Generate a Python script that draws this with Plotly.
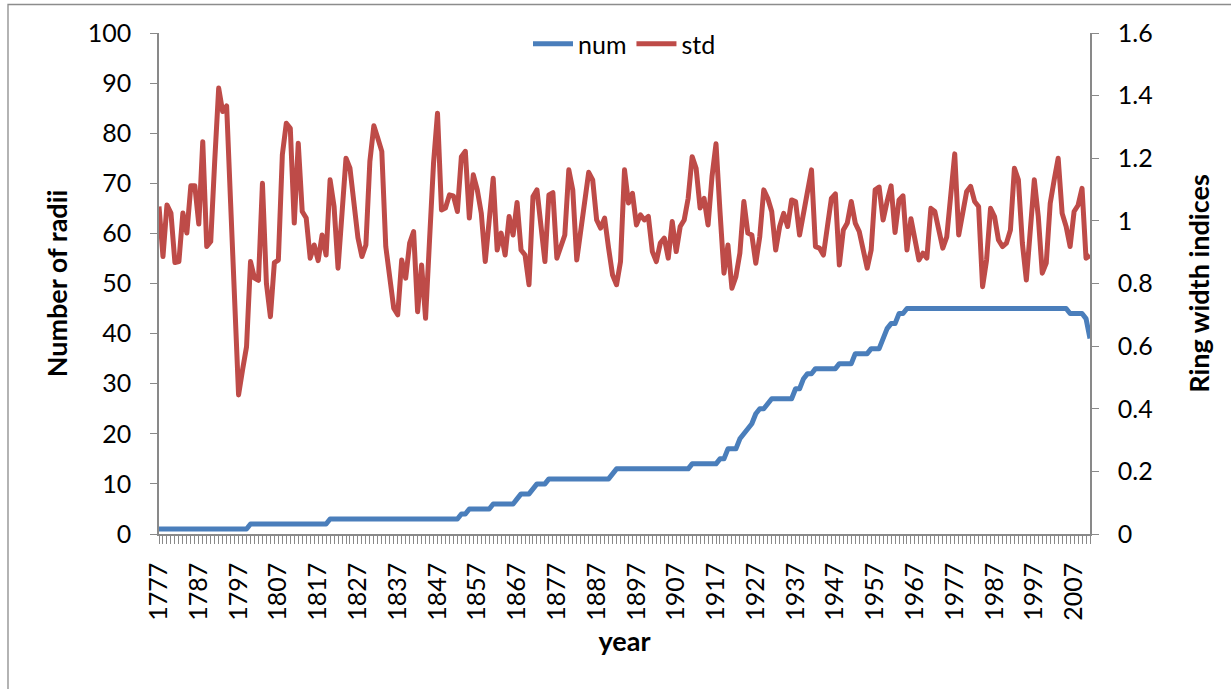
import plotly.graph_objects as go

# ---------------- data ----------------
years = list(range(1777, 2012))

num = [
    1, 1, 1, 1, 1, 1, 1, 1, 1, 1,          # 1777-1786
    1, 1, 1, 1, 1, 1, 1, 1, 1, 1,          # 1787-1796
    1, 1, 1, 2, 2, 2, 2, 2, 2, 2,          # 1797-1806
    2, 2, 2, 2, 2, 2, 2, 2, 2, 2,          # 1807-1816
    2, 2, 2, 3, 3, 3, 3, 3, 3, 3,          # 1817-1826
    3, 3, 3, 3, 3, 3, 3, 3, 3, 3,          # 1827-1836
    3, 3, 3, 3, 3, 3, 3, 3, 3, 3,          # 1837-1846
    3, 3, 3, 3, 3, 3, 4, 4, 5, 5,          # 1847-1856
    5, 5, 5, 5, 6, 6, 6, 6, 6, 6,          # 1857-1866
    7, 8, 8, 8, 9, 10, 10, 10, 11, 11,     # 1867-1876
    11, 11, 11, 11, 11, 11, 11, 11, 11, 11,  # 1877-1886
    11, 11, 11, 11, 12, 13, 13, 13, 13, 13,  # 1887-1896
    13, 13, 13, 13, 13, 13, 13, 13, 13, 13,  # 1897-1906
    13, 13, 13, 13, 14, 14, 14, 14, 14, 14,  # 1907-1916
    14, 15, 15, 17, 17, 17, 19, 20, 21, 22,  # 1917-1926
    24, 25, 25, 26, 27, 27, 27, 27, 27, 27,  # 1927-1936
    29, 29, 31, 32, 32, 33, 33, 33, 33, 33,  # 1937-1946
    33, 34, 34, 34, 34, 36, 36, 36, 36, 37,  # 1947-1956
    37, 37, 39, 41, 42, 42, 44, 44, 45, 45,  # 1957-1966
    45, 45, 45, 45, 45, 45, 45, 45, 45, 45,  # 1967-1976
    45, 45, 45, 45, 45, 45, 45, 45, 45, 45,  # 1977-1986
    45, 45, 45, 45, 45, 45, 45, 45, 45, 45,  # 1987-1996
    45, 45, 45, 45, 45, 45, 45, 45, 45, 44,  # 1997-2006
    44, 44, 44, 43, 39,                      # 2007-2011
]

std = [
    1.046, 0.886, 1.051, 1.025, 0.867, 0.870, 1.025, 0.961, 1.112, 1.112,  # 1777-1786
    0.990, 1.253, 0.918, 0.934, 1.190, 1.424, 1.349, 1.367, 1.057, 0.748,  # 1787-1796
    0.444, 0.524, 0.598, 0.870, 0.817, 0.810, 1.120, 0.800, 0.694, 0.867,  # 1797-1806
    0.875, 1.211, 1.312, 1.296, 0.993, 1.248, 1.030, 1.009, 0.881, 0.923,  # 1807-1816
    0.873, 0.955, 0.891, 1.131, 1.046, 0.849, 1.020, 1.200, 1.168, 1.067,  # 1817-1826
    0.946, 0.886, 0.923, 1.190, 1.304, 1.264, 1.222, 0.918, 0.822, 0.721,  # 1827-1836
    0.700, 0.875, 0.817, 0.929, 0.966, 0.710, 0.859, 0.689, 0.939, 1.184,  # 1837-1846
    1.344, 1.035, 1.041, 1.083, 1.080, 1.030, 1.205, 1.222, 1.009, 1.147,  # 1847-1856
    1.099, 1.025, 0.870, 1.003, 1.136, 0.907, 0.961, 0.891, 1.014, 0.955,  # 1857-1866
    1.059, 0.907, 0.891, 0.796, 1.078, 1.099, 0.982, 0.870, 1.083, 1.090,  # 1867-1876
    0.881, 0.913, 0.955, 1.163, 1.099, 0.875, 0.971, 1.078, 1.155, 1.131,  # 1877-1886
    1.003, 0.977, 1.009, 0.913, 0.827, 0.796, 0.870, 1.163, 1.057, 1.088,  # 1887-1896
    0.987, 1.019, 1.003, 1.014, 0.902, 0.870, 0.929, 0.945, 0.881, 0.998,  # 1897-1906
    0.902, 0.982, 1.003, 1.072, 1.205, 1.168, 1.041, 1.072, 0.987, 1.142,  # 1907-1916
    1.246, 1.030, 0.833, 0.923, 0.785, 0.822, 0.897, 1.062, 0.961, 0.955,  # 1917-1926
    0.865, 0.950, 1.099, 1.072, 1.030, 0.907, 0.982, 1.024, 0.982, 1.067,  # 1927-1936
    1.062, 0.955, 1.035, 1.094, 1.163, 0.918, 0.913, 0.891, 0.982, 1.072,  # 1937-1946
    1.086, 0.859, 0.971, 0.993, 1.062, 0.993, 0.966, 0.913, 0.849, 0.907,  # 1947-1956
    1.099, 1.108, 1.003, 1.062, 1.112, 0.963, 1.067, 1.080, 0.907, 1.007,  # 1957-1966
    0.940, 0.875, 0.897, 0.881, 1.040, 1.030, 0.971, 0.913, 0.949, 1.088,  # 1967-1976
    1.214, 0.955, 1.035, 1.094, 1.110, 1.062, 1.046, 0.790, 0.875, 1.040,  # 1977-1986
    1.014, 0.939, 0.918, 0.929, 0.971, 1.168, 1.131, 0.929, 0.811, 0.970,  # 1987-1996
    1.131, 1.014, 0.833, 0.865, 1.056, 1.131, 1.200, 1.024, 0.982, 0.918,  # 1997-2006
    1.030, 1.050, 1.104, 0.881, 0.890,                                      # 2007-2011
]

tick_years = [1777, 1787, 1797, 1807, 1817, 1827, 1837, 1847, 1857, 1867, 1877,
              1887, 1897, 1907, 1917, 1927, 1937, 1947, 1957, 1967, 1977, 1987,
              1997, 2007]
tick_labels = ["1777", "1787", "1797", "1807", "1817", "1827", "1837", "1847",
               "1857", "1867", "1877", "1887", "1897", "1907", "1917", "1927",
               "1937", "1947", "1957", "1967", "1977", "1987", "1997", "2007"]

# ---------------- figure ----------------
W, H = 1231, 689
ML, MR, MT, MB = 159, 141, 33, 155
PW, PH = W - ML - MR, H - MT - MB

AX = "#898989"
FONT = "Lato"

fig = go.Figure()
fig.add_trace(go.Scatter(x=years, y=num, name="num", mode="lines",
                         line=dict(color="#4A7EBB", width=5), yaxis="y"))
fig.add_trace(go.Scatter(x=years, y=std, name="std", mode="lines",
                         line=dict(color="#BE4B48", width=5), yaxis="y2"))

fig.update_layout(
    width=W, height=H,
    margin=dict(l=ML, r=MR, t=MT, b=MB, pad=0),
    paper_bgcolor="white", plot_bgcolor="white",
    font=dict(family=FONT, size=25, color="black"),
    showlegend=True,
    legend=dict(orientation="h", x=0.5, xanchor="center", y=0.978, yanchor="middle",
                bgcolor="rgba(0,0,0,0)", font=dict(size=25), itemwidth=40,
                traceorder="normal"),
    xaxis=dict(
        range=[1777, 2011], tickmode="array", tickvals=tick_years, ticktext=tick_labels,
        tickangle=-90, ticks="outside", ticklen=8, tickwidth=1, tickcolor=AX,
        minor=dict(dtick=1, tick0=1777, ticks="outside", ticklen=8, tickwidth=1,
                   tickcolor=AX, showgrid=False),
        showline=True, linecolor=AX, linewidth=1.5, showgrid=False, zeroline=False,
        ticklabelstandoff=9, automargin=False,
        title=dict(text="<b>year</b>", font=dict(size=27), standoff=12),
    ),
    yaxis=dict(
        range=[0, 100], dtick=10, ticks="outside", ticklen=7, tickwidth=1.3,
        tickcolor=AX, showline=True, linecolor=AX, linewidth=1.5,
        showgrid=False, zeroline=False, ticklabelstandoff=14, automargin=False,
        title=dict(text="<b>Number of radii</b>", font=dict(size=27), standoff=12),
    ),
    yaxis2=dict(
        range=[0, 1.6], dtick=0.2, overlaying="y", side="right",
        ticks="outside", ticklen=7, tickwidth=1.3, tickcolor=AX,
        showline=True, linecolor=AX, linewidth=1.5,
        showgrid=False, zeroline=False, ticklabelstandoff=14, automargin=False,
        title=dict(text="<b>Ring width indices</b>", font=dict(size=27), standoff=38),
    ),
    shapes=[dict(type="rect", xref="paper", yref="paper",
                 x0=(8 - ML) / PW, x1=(W + 20 - ML) / PW,
                 y0=-(H + 20 - (MT + PH)) / PH, y1=(MT + PH - 4.5) / PH,
                 line=dict(color="#8c8c8c", width=1.3), fillcolor="rgba(0,0,0,0)",
                 layer="below")],
)

post = """
document.querySelectorAll('.scatterlayer path.js-line').forEach(function(p){
  p.style.strokeLinejoin='round';
});
"""
fig.write_html("out.html", post_script=post)
